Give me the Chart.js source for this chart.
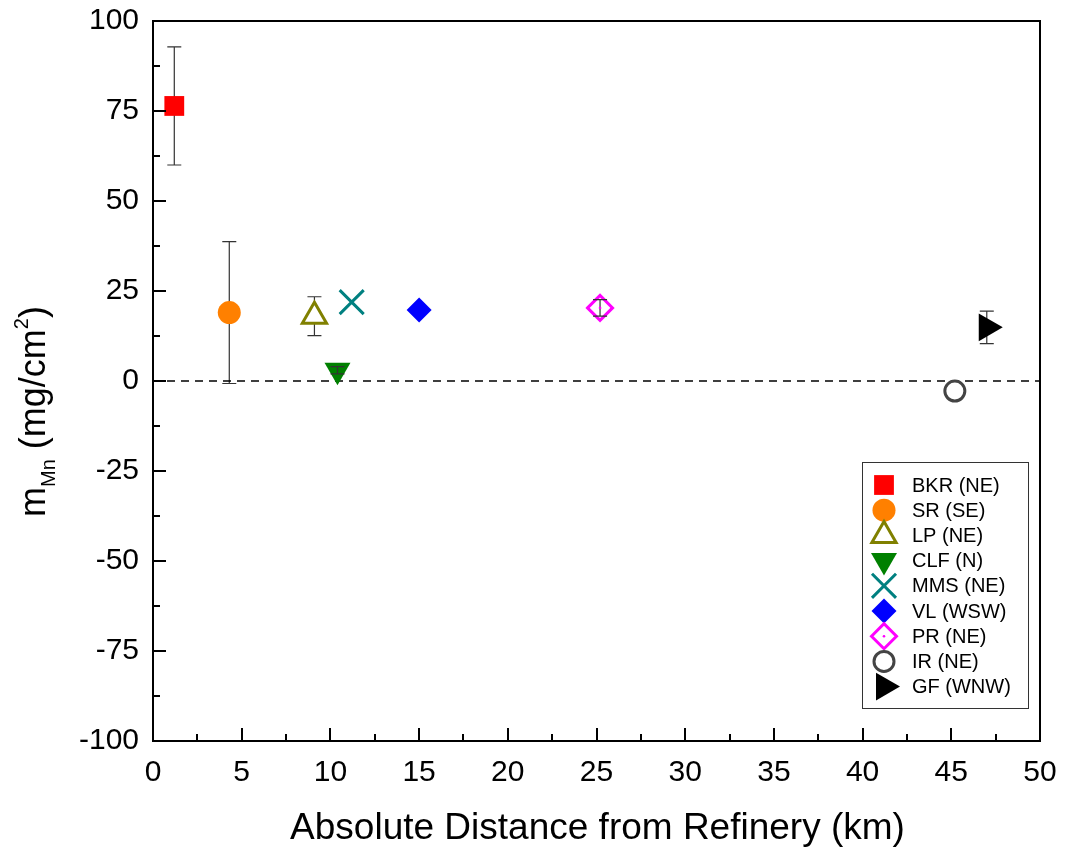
<!DOCTYPE html>
<html>
<head>
<meta charset="utf-8">
<title>m_Mn vs distance from refinery</title>
<script src="https://cdn.jsdelivr.net/npm/chart.js@4.4.1/dist/chart.umd.min.js"></script>
<style>
  body { margin: 0; background: #fff; }
  canvas { display: block; }
</style>
</head>
<body>
<canvas id="mnChart" width="1068" height="852"></canvas>
<script>
// ---- data ----
const siteLabels = ['BKR (NE)', 'SR (SE)', 'LP (NE)', 'CLF (N)', 'MMS (NE)', 'VL (WSW)', 'PR (NE)', 'IR (NE)', 'GF (WNW)'];
const distanceKm = [1.2, 4.3, 9.1, 10.4, 11.2, 15.0, 25.2, 45.2, 47.0];
const massMn     = [76.4, 19.0, 18.0, 3.0, 21.9, 19.7, 20.3, -2.8, 14.9];
const massErr    = [16.4, 19.7, 5.4, 1.0, 0, 0, 2.3, 0, 4.5];

const xTickValues = [0, 5, 10, 15, 20, 25, 30, 35, 40, 45, 50];
const yTickValues = [-100, -75, -50, -25, 0, 25, 50, 75, 100];

// marker look for each site (same order as siteLabels)
const markers = [
  { style: 'rect',     r: 14,   rot: 0,   color: '#ff0000', fill: '#ff0000', bw: 0 },
  { style: 'circle',   r: 11.5, rot: 0,   color: '#ff8000', fill: '#ff8000', bw: 0 },
  { style: 'triangle', r: 14,   rot: 0,   color: '#808000', fill: '#ffffff', bw: 3 },
  { style: 'triangle', r: 15,   rot: 180, color: '#008000', fill: '#008000', bw: 0 },
  { style: 'crossRot', r: 17,   rot: 0,   color: '#008080', fill: '#008080', bw: 3 },
  { style: 'rectRot',  r: 12.5, rot: 0,   color: '#0000ff', fill: '#0000ff', bw: 0 },
  { style: 'rectRot',  r: 12.5, rot: 0,   color: '#ff00ff', fill: '#ffffff', bw: 3, dot: true },
  { style: 'circle',   r: 10,   rot: 0,   color: '#444444', fill: '#ffffff', bw: 3 },
  { style: 'triangle', r: 16,   rot: 90,  color: '#000000', fill: '#000000', bw: 0 }
];

const FONT = '"Liberation Sans", Arial, Helvetica, sans-serif';

// ---- helpers ----
function drawMarker(ctx, m, x, y) {
  ctx.save();
  ctx.fillStyle = m.fill;
  ctx.strokeStyle = m.color;
  ctx.lineWidth = m.bw || 0;
  Chart.helpers.drawPoint(ctx, { pointStyle: m.style, radius: m.r, rotation: m.rot, borderWidth: m.bw }, x, y);
  if (m.dot) {
    ctx.fillStyle = m.color;
    ctx.beginPath();
    ctx.arc(x, y, 1.3, 0, Math.PI * 2);
    ctx.fill();
  }
  ctx.restore();
}

function drawErrBar(chart, i) {
  const ctx = chart.ctx;
  const xs = chart.scales.x, ys = chart.scales.y;
  const px = xs.getPixelForValue(distanceKm[i]);
  const top = ys.getPixelForValue(massMn[i] + massErr[i]);
  const bot = ys.getPixelForValue(massMn[i] - massErr[i]);
  ctx.save();
  ctx.strokeStyle = '#333333';
  ctx.lineWidth = 1.2;
  ctx.beginPath();
  ctx.moveTo(px, top); ctx.lineTo(px, bot);
  ctx.moveTo(px - 7, top); ctx.lineTo(px + 7, top);
  ctx.moveTo(px - 7, bot); ctx.lineTo(px + 7, bot);
  ctx.stroke();
  ctx.restore();
}

function errIsShort(chart, i) {
  const ys = chart.scales.y;
  const half = Math.abs(ys.getPixelForValue(massMn[i]) - ys.getPixelForValue(massMn[i] + massErr[i]));
  return half < markers[i].r * 0.8;
}

// ---- plugins ----
// long error bars sit behind the marker, short ones are drawn on top of it
const errorBarPlugin = {
  id: 'errorBars',
  beforeDatasetsDraw(chart) {
    massErr.forEach((e, i) => { if (e > 0 && !errIsShort(chart, i)) drawErrBar(chart, i); });
  },
  afterDatasetsDraw(chart) {
    massErr.forEach((e, i) => { if (e > 0 && errIsShort(chart, i)) drawErrBar(chart, i); });
    // the small centre dot of the PR marker
    chart.data.datasets.forEach((ds, i) => {
      if (ds.isZeroLine || !markers[i].dot) return;
      const el = chart.getDatasetMeta(i).data[0];
      chart.ctx.save();
      chart.ctx.fillStyle = markers[i].color;
      chart.ctx.beginPath();
      chart.ctx.arc(el.x, el.y, 1.3, 0, Math.PI * 2);
      chart.ctx.fill();
      chart.ctx.restore();
    });
  }
};

// frame, inward ticks, axis titles and the boxed legend
const framePlugin = {
  id: 'frame',
  afterDraw(chart) {
    const ctx = chart.ctx;
    const a = chart.chartArea;
    const xs = chart.scales.x, ys = chart.scales.y;
    ctx.save();
    ctx.strokeStyle = '#000';
    ctx.lineWidth = 2;
    ctx.strokeRect(a.left, a.top, a.right - a.left, a.bottom - a.top);

    // inward ticks on the left and bottom axes (major + minor)
    ctx.beginPath();
    for (let v = -100; v <= 100; v += 12.5) {
      const py = Math.round(ys.getPixelForValue(v));
      const len = (v % 25 === 0) ? 13 : 7;
      ctx.moveTo(a.left, py); ctx.lineTo(a.left + len, py);
    }
    for (let v = 0; v <= 50; v += 2.5) {
      const px = Math.round(xs.getPixelForValue(v));
      const len = (v % 5 === 0) ? 13 : 7;
      ctx.moveTo(px, a.bottom); ctx.lineTo(px, a.bottom - len);
    }
    ctx.stroke();

    // x axis title
    ctx.fillStyle = '#000';
    ctx.font = '37px ' + FONT;
    ctx.textAlign = 'center';
    ctx.textBaseline = 'alphabetic';
    ctx.fillText('Absolute Distance from Refinery (km)', (a.left + a.right) / 2 + 1, 839);

    // y axis title: m_Mn (mg/cm^2), rotated
    ctx.save();
    ctx.translate(45, 517);
    ctx.rotate(-Math.PI / 2);
    ctx.textAlign = 'left';
    let x = 0;
    const big = '36px ' + FONT, small = '20px ' + FONT;
    ctx.font = big;   ctx.fillText('m', x, 0); x += ctx.measureText('m').width;
    ctx.font = small; ctx.fillText('Mn', x, 10); x += ctx.measureText('Mn').width;
    ctx.font = big;   ctx.fillText(' (mg/cm', x, 0); x += ctx.measureText(' (mg/cm').width;
    ctx.font = small; ctx.fillText('2', x, -17); x += ctx.measureText('2').width;
    ctx.font = big;   ctx.fillText(')', x, 0);
    ctx.restore();

    // legend box in the lower right of the plot
    const boxW = 166, boxH = 246;
    const bx = a.right - 12 - boxW, by = a.bottom - 33 - boxH;
    ctx.lineWidth = 1;
    ctx.strokeStyle = '#333';
    ctx.strokeRect(bx + 0.5, by + 0.5, boxW, boxH);
    ctx.font = '20px ' + FONT;
    ctx.textAlign = 'left';
    ctx.textBaseline = 'middle';
    siteLabels.forEach((name, i) => {
      const ly = by + 23 + i * 25.2;
      drawMarker(ctx, markers[i], bx + 22, ly);
      ctx.fillStyle = '#000';
      ctx.fillText(name, bx + 50, ly + 1);
    });
    ctx.restore();
  }
};

// ---- chart ----
const siteDatasets = siteLabels.map((name, i) => ({
  label: name,
  data: [{ x: distanceKm[i], y: massMn[i] }],
  pointStyle: markers[i].style,
  pointRadius: markers[i].r,
  pointHoverRadius: markers[i].r,
  pointRotation: markers[i].rot,
  backgroundColor: markers[i].fill,
  borderColor: markers[i].color,
  borderWidth: markers[i].bw
}));

const zeroLine = {
  type: 'line',
  label: 'zero',
  isZeroLine: true,
  data: [{ x: 0, y: 0 }, { x: 50, y: 0 }],
  borderColor: '#000',
  borderWidth: 1.5,
  borderDash: [8, 6],
  pointRadius: 0,
  fill: false
};

const tickFont = { family: FONT, size: 30 };

new Chart(document.getElementById('mnChart'), {
  type: 'scatter',
  data: { datasets: [...siteDatasets, zeroLine] },
  options: {
    responsive: false,
    animation: false,
    devicePixelRatio: 1,
    events: [],
    layout: { padding: { top: 21, right: 28, left: 0, bottom: 0 }, autoPadding: false },
    plugins: { legend: { display: false }, tooltip: { enabled: false } },
    scales: {
      x: {
        type: 'linear',
        min: 0, max: 50,
        grid: { display: false, drawTicks: false },
        border: { display: false },
        afterBuildTicks: (s) => { s.ticks = xTickValues.map(v => ({ value: v })); },
        afterFit: (s) => { s.height = 111; s.paddingLeft = 0; s.paddingRight = 0; },
        ticks: { font: tickFont, color: '#000', padding: 14, maxRotation: 0, autoSkip: false }
      },
      y: {
        type: 'linear',
        min: -100, max: 100,
        grid: { display: false, drawTicks: false },
        border: { display: false },
        afterBuildTicks: (s) => { s.ticks = yTickValues.map(v => ({ value: v })); },
        afterFit: (s) => { s.width = 153; s.paddingTop = 0; s.paddingBottom = 0; },
        ticks: { font: tickFont, color: '#000', padding: 14, autoSkip: false }
      }
    }
  },
  plugins: [errorBarPlugin, framePlugin]
});
</script>
</body>
</html>
